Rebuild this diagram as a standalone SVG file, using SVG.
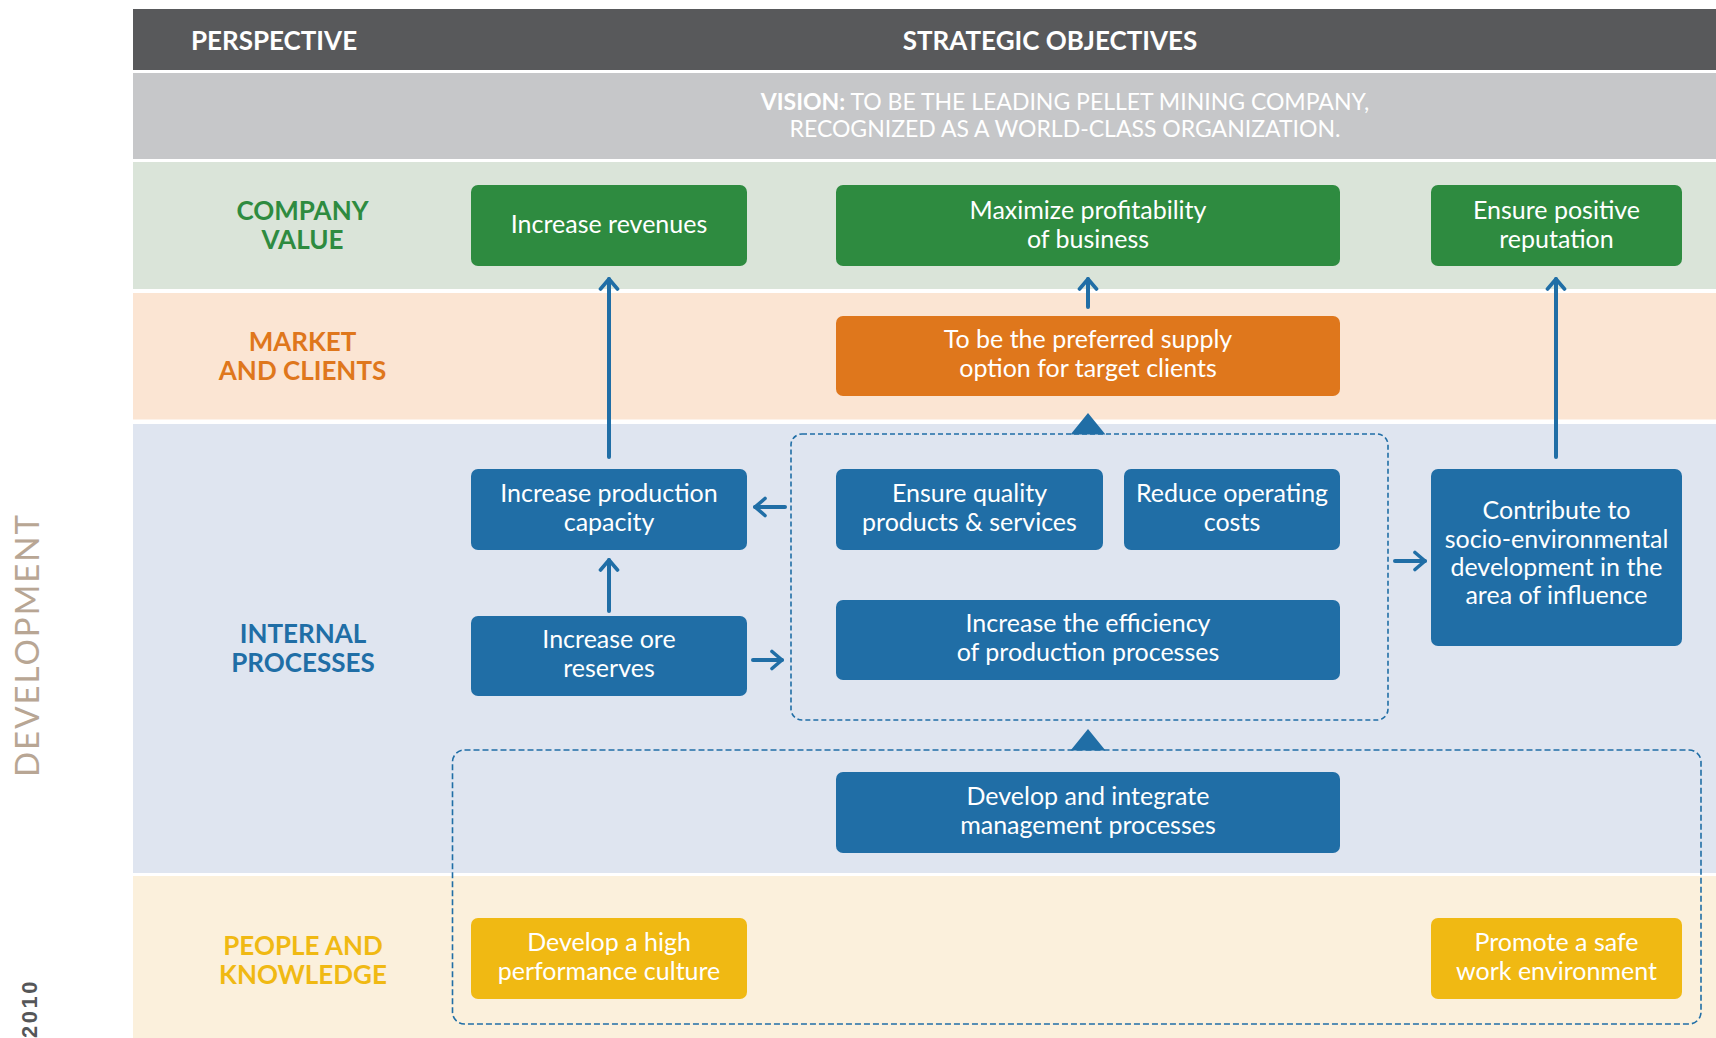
<svg xmlns="http://www.w3.org/2000/svg" width="1716" height="1038" viewBox="0 0 1716 1038">
  <style>
    .band-label { font-family: Lato, "Liberation Sans", sans-serif; font-weight: 700; font-size: 26px; text-anchor: middle; }
    .head { font-family: Lato, "Liberation Sans", sans-serif; font-weight: 700; font-size: 26px; fill: #ffffff; text-anchor: middle; }
    .vision { font-family: Lato, "Liberation Sans", sans-serif; font-size: 23px; fill: #ffffff; text-anchor: middle; }
    .box-text { font-family: Lato, "Liberation Sans", sans-serif; font-size: 25px; fill: #ffffff; text-anchor: middle; }
    .green { fill: #2e8b40; }
    .orange { fill: #df771c; }
    .blue { fill: #206ea6; }
    .yellow { fill: #f0b913; }
    .conn { stroke: #206ea6; stroke-width: 4; stroke-linecap: round; fill: none; }
    .dash-inner { fill: none; stroke: #206ea6; stroke-width: 1.6; stroke-dasharray: 5 3; }
    .dash-outer { fill: none; stroke: #206ea6; stroke-width: 1.6; stroke-dasharray: 6 3; }
  </style>
  <defs>
    <marker id="chev" viewBox="-13 -11 16 22" markerWidth="16" markerHeight="22" refX="0" refY="0" markerUnits="userSpaceOnUse" orient="auto">
      <path d="M -10,-8.5 L 0,0 L -10,8.5" fill="none" stroke="#206ea6" stroke-width="3.6" stroke-linecap="round" stroke-linejoin="round"/>
    </marker>
  </defs>

  <rect width="1716" height="1038" fill="#ffffff"/>

  <!-- side captions -->
  <text transform="translate(39,645) rotate(-90)" font-family="Lato, 'Liberation Sans', sans-serif" font-size="33" font-weight="400" fill="#b8a694" text-anchor="middle" letter-spacing="2">DEVELOPMENT</text>
  <text transform="translate(37,979) rotate(-90)" font-family="'Liberation Sans', sans-serif" font-size="22" font-weight="700" fill="#555658" text-anchor="end" letter-spacing="2.5">2010</text>

  <!-- perspective bands -->
  <g id="bands">
    <rect x="133" y="9" width="1583" height="61" fill="#58595b"/>
    <rect x="133" y="73" width="1583" height="86" fill="#c6c7c9"/>
    <rect x="133" y="162" width="1583" height="127" fill="#dae4d9"/>
    <rect x="133" y="293" width="1583" height="126.5" fill="#fbe5d3"/>
    <rect x="133" y="424" width="1583" height="449" fill="#dfe5f0"/>
    <rect x="133" y="876" width="1583" height="162" fill="#fbf0dc"/>
  </g>

  <g id="header">
    <text class="head" x="274" y="50">PERSPECTIVE</text>
    <text class="head" x="1050" y="50">STRATEGIC OBJECTIVES</text>
  </g>

  <g id="vision">
    <text class="vision" x="1065" y="110"><tspan font-weight="700">VISION:</tspan> TO BE THE LEADING PELLET MINING COMPANY,</text>
    <text class="vision" x="1065" y="137">RECOGNIZED AS A WORLD-CLASS ORGANIZATION.</text>
  </g>

  <g id="perspective-labels">
    <text class="band-label green" x="302.5" y="220">COMPANY</text>
    <text class="band-label green" x="302.5" y="249">VALUE</text>
    <text class="band-label orange" x="302.5" y="351">MARKET</text>
    <text class="band-label orange" x="302.5" y="380">AND CLIENTS</text>
    <text class="band-label blue" x="303" y="643">INTERNAL</text>
    <text class="band-label blue" x="303" y="672">PROCESSES</text>
    <text class="band-label yellow" x="303" y="955">PEOPLE AND</text>
    <text class="band-label yellow" x="303" y="984">KNOWLEDGE</text>
  </g>

  <!-- grouping frames -->
  <g id="frames">
    <rect class="dash-inner" x="791" y="434" width="597" height="286" rx="11"/>
    <rect class="dash-outer" x="452.5" y="750" width="1248.5" height="274" rx="12"/>
  </g>

  <!-- objectives -->
  <g id="increase-revenues">
    <rect class="green" x="471" y="185" width="276" height="81" rx="7"/>
    <text class="box-text" x="609" y="233">Increase revenues</text>
  </g>
  <g id="maximize-profitability">
    <rect class="green" x="836" y="185" width="504" height="81" rx="7"/>
    <text class="box-text" x="1088" y="219">Maximize profitability</text>
    <text class="box-text" x="1088" y="248">of business</text>
  </g>
  <g id="ensure-reputation">
    <rect class="green" x="1431" y="185" width="251" height="81" rx="7"/>
    <text class="box-text" x="1556.5" y="219">Ensure positive</text>
    <text class="box-text" x="1556.5" y="248">reputation</text>
  </g>
  <g id="preferred-supply">
    <rect class="orange" x="836" y="316" width="504" height="80" rx="7"/>
    <text class="box-text" x="1088" y="348">To be the preferred supply</text>
    <text class="box-text" x="1088" y="377">option for target clients</text>
  </g>
  <g id="production-capacity">
    <rect class="blue" x="471" y="469" width="276" height="81" rx="7"/>
    <text class="box-text" x="609" y="502">Increase production</text>
    <text class="box-text" x="609" y="531">capacity</text>
  </g>
  <g id="quality-products">
    <rect class="blue" x="836" y="469" width="267" height="81" rx="7"/>
    <text class="box-text" x="969.5" y="502">Ensure quality</text>
    <text class="box-text" x="969.5" y="531">products &amp; services</text>
  </g>
  <g id="reduce-costs">
    <rect class="blue" x="1124" y="469" width="216" height="81" rx="7"/>
    <text class="box-text" x="1232" y="502">Reduce operating</text>
    <text class="box-text" x="1232" y="531">costs</text>
  </g>
  <g id="socio-environmental">
    <rect class="blue" x="1431" y="469" width="251" height="177" rx="7"/>
    <text class="box-text" x="1556.5" y="519">Contribute to</text>
    <text class="box-text" x="1556.5" y="548">socio-environmental</text>
    <text class="box-text" x="1556.5" y="576">development in the</text>
    <text class="box-text" x="1556.5" y="604">area of influence</text>
  </g>
  <g id="ore-reserves">
    <rect class="blue" x="471" y="616" width="276" height="80" rx="7"/>
    <text class="box-text" x="609" y="648">Increase ore</text>
    <text class="box-text" x="609" y="677">reserves</text>
  </g>
  <g id="process-efficiency">
    <rect class="blue" x="836" y="600" width="504" height="80" rx="7"/>
    <text class="box-text" x="1088" y="632">Increase the efficiency</text>
    <text class="box-text" x="1088" y="661">of production processes</text>
  </g>
  <g id="management-processes">
    <rect class="blue" x="836" y="772" width="504" height="81" rx="7"/>
    <text class="box-text" x="1088" y="805">Develop and integrate</text>
    <text class="box-text" x="1088" y="834">management processes</text>
  </g>
  <g id="performance-culture">
    <rect class="yellow" x="471" y="918" width="276" height="81" rx="7"/>
    <text class="box-text" x="609" y="951">Develop a high</text>
    <text class="box-text" x="609" y="980">performance culture</text>
  </g>
  <g id="safe-environment">
    <rect class="yellow" x="1431" y="918" width="251" height="81" rx="7"/>
    <text class="box-text" x="1556.5" y="951">Promote a safe</text>
    <text class="box-text" x="1556.5" y="980">work environment</text>
  </g>

  <!-- connectors -->
  <g id="connectors">
    <line class="conn" x1="609" y1="457" x2="609" y2="279" marker-end="url(#chev)"/>
    <line class="conn" x1="1556" y1="457" x2="1556" y2="279" marker-end="url(#chev)"/>
    <line class="conn" x1="1088" y1="307" x2="1088" y2="279" marker-end="url(#chev)"/>
    <line class="conn" x1="609" y1="611" x2="609" y2="560" marker-end="url(#chev)"/>
    <line class="conn" x1="785" y1="507" x2="755" y2="507" marker-end="url(#chev)"/>
    <line class="conn" x1="753" y1="660" x2="782" y2="660" marker-end="url(#chev)"/>
    <line class="conn" x1="1395" y1="561" x2="1425" y2="561" marker-end="url(#chev)"/>
    <polygon class="blue" points="1088,413 1105.5,434.5 1070.5,434.5"/>
    <polygon class="blue" points="1088,729 1105.5,750.5 1070.5,750.5"/>
  </g>
</svg>
